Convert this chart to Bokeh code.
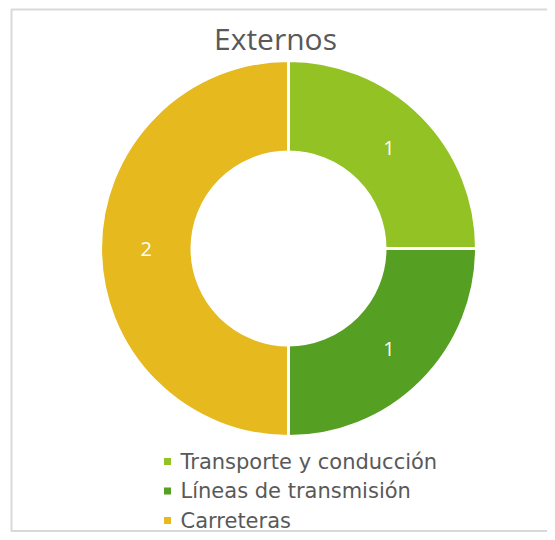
import math
from bokeh.plotting import figure
from bokeh.models import Range1d, ColumnDataSource
from bokeh.core.properties import value
from bokeh.embed import file_html
from bokeh.resources import INLINE

title = "Externos"
categories = ["Transporte y conducción", "Líneas de transmisión", "Carreteras"]
values = [1, 1, 2]
colors = ["#93C225", "#559F22", "#E6B91F"]

W, H = 547, 532
p = figure(width=W, height=H, output_backend="svg", toolbar_location=None,
           x_range=Range1d(0, W), y_range=Range1d(0, H), min_border=0)
p.axis.visible = False
p.grid.visible = False
p.outline_line_color = None
p.background_fill_color = "white"
p.border_fill_color = "white"

def px(X, Y):
    return X, H - Y

# chart border (extends past right edge)
bx0, by0 = px(11, 9)
bx1, by1 = px(600, 530.5)
p.line([bx1, bx0, bx0, bx1], [by0, by0, by1, by1], line_color="#D9D9D9", line_width=2)

# title
tx, ty = px(275, 38)
p.text([tx], [ty], text=[title], text_font=value("Open Sans"), text_font_size="30px",
       text_color="#595959", text_align="center", text_baseline="middle")

# donut
cx, cy = px(288, 248)
r_out, r_in = 188, 96.5
total = sum(values)
starts, ends, lx, ly = [], [], [], []
cum = 0
for v in values:
    s = math.pi / 2 - 2 * math.pi * cum / total
    e = math.pi / 2 - 2 * math.pi * (cum + v) / total
    starts.append(s)
    ends.append(e)
    m = (s + e) / 2
    rm = (r_out + r_in) / 2
    lx.append(cx + rm * math.cos(m))
    ly.append(cy + rm * math.sin(m))
    cum += v

src = ColumnDataSource(dict(start=starts, end=ends, color=colors,
                            lx=lx, ly=ly, lab=[str(v) for v in values]))
p.annular_wedge(x=cx, y=cy, inner_radius=r_in, outer_radius=r_out,
                start_angle="start", end_angle="end", direction="clock",
                fill_color="color", line_color="white", line_width=3, source=src)
p.text(x="lx", y="ly", text="lab", source=src, text_font=value("Open Sans"),
       text_font_size="20px", text_color="white", text_align="center",
       text_baseline="middle")

# legend
sq_x, _ = px(167, 0)
t_x, _ = px(180, 0)
rows_y = [px(0, 461 + 29.5 * i)[1] for i in range(len(categories))]
p.rect(x=[sq_x] * len(categories), y=rows_y, width=7, height=7,
       fill_color=colors, line_color=None)
p.text(x=[t_x] * len(categories), y=rows_y, text=categories,
       text_font=value("DejaVu Sans"), text_font_size="21px", text_color="#595959",
       text_align="left", text_baseline="middle")

open("out.html", "w").write(file_html(p, INLINE))
